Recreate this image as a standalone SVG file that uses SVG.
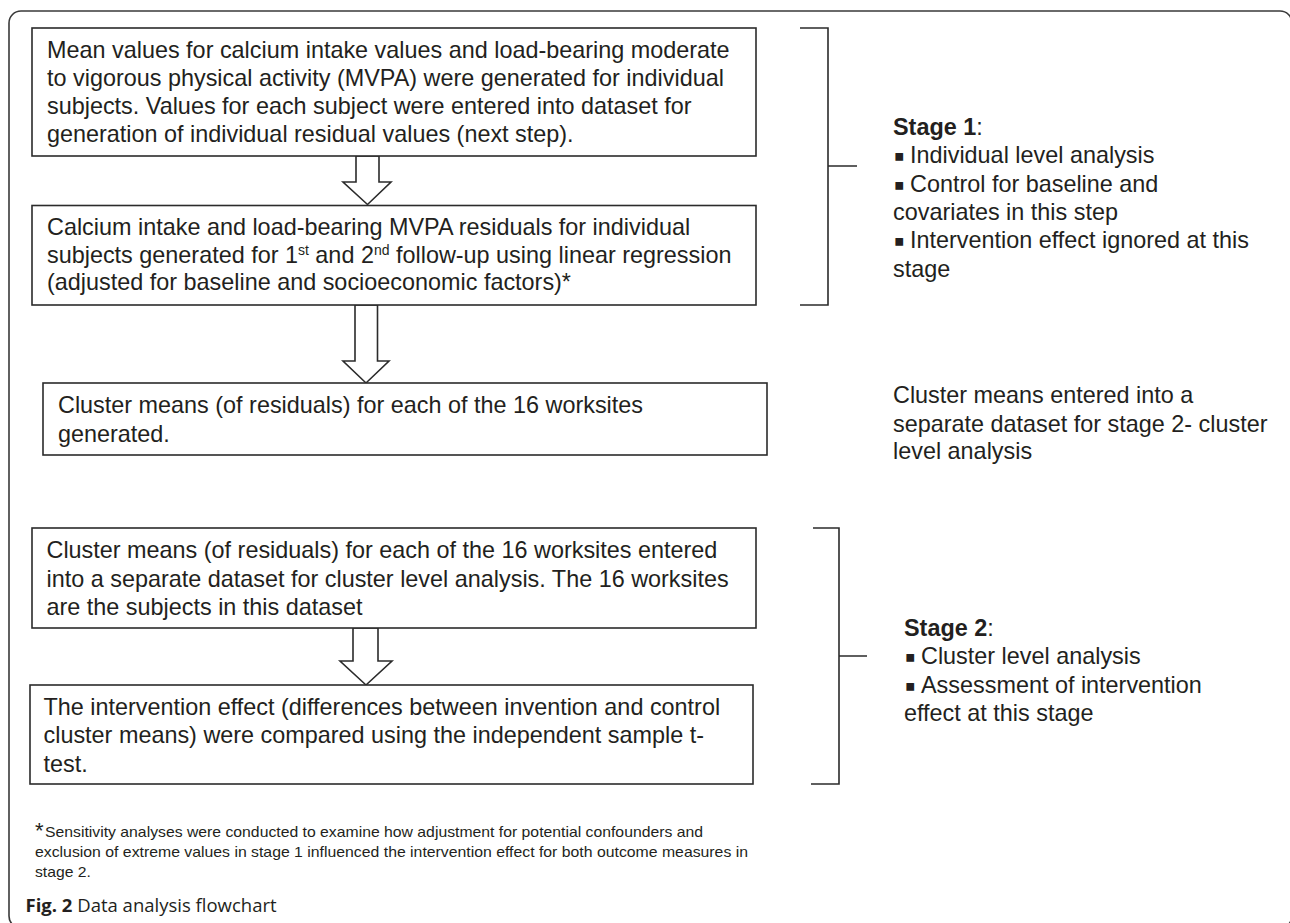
<svg xmlns="http://www.w3.org/2000/svg" width="1290" height="923" viewBox="0 0 1290 923">
  <style>
    .frame { fill: none; stroke: #3a3a3a; stroke-width: 1.6; }
    .box { fill: #ffffff; stroke: #2b2b2b; stroke-width: 1.6; }
    .arrow { fill: #ffffff; stroke: #2b2b2b; stroke-width: 1.6; stroke-linejoin: miter; }
    .br { fill: none; stroke: #2b2b2b; stroke-width: 1.6; }
    .t { font-family: "Liberation Sans", Arial, sans-serif; font-size: 23.4px; fill: #231f20; }
    .b { font-weight: bold; }
    .bul { font-family: "DejaVu Sans", sans-serif; font-size: 15.5px; fill: #231f20; }
    .sup { font-size: 14px; }
    .fn { font-family: "Liberation Sans", Arial, sans-serif; font-size: 15px; fill: #231f20; }
    .cap { font-family: "Open Sans", "Noto Sans", sans-serif; font-size: 18.5px; fill: #231f20; }
  </style>
  <rect width="1290" height="923" fill="#ffffff"/>
  <rect class="frame" x="9" y="11" width="1283" height="917" rx="12" ry="12"/>

  <g id="connectors">
    <polygon class="arrow" points="356,156 379,156 379,182 391,182 367.5,204.5 343,182 356,182"/>
    <polygon class="arrow" points="355,305 377.5,305 377.5,361 389,361 366,383 343,361 355,361"/>
    <polygon class="arrow" points="353,628 378,628 378,661 392,661 366,685 340,661 353,661"/>
    <path class="br" d="M800,28 H828 V305 H800 M828,166 H857"/>
    <path class="br" d="M813,528 H839 V784 H811 M839,656 H867"/>
  </g>

  <g id="node1">
    <rect class="box" x="32" y="28" width="724" height="128"/>
    <text class="t" x="47" y="58">Mean values for calcium intake values and load-bearing moderate</text>
    <text class="t" x="47" y="86">to vigorous physical activity (MVPA) were generated for individual</text>
    <text class="t" x="47" y="114">subjects. Values for each subject were entered into dataset for</text>
    <text class="t" x="47" y="142">generation of individual residual values (next step).</text>
  </g>

  <g id="node2">
    <rect class="box" x="32" y="205.5" width="724" height="99.5"/>
    <text class="t" x="47" y="235">Calcium intake and load-bearing MVPA residuals for individual</text>
    <text class="t" x="47" y="263">subjects generated for 1<tspan class="sup" dy="-8">st</tspan><tspan dy="8"> and 2</tspan><tspan class="sup" dy="-8">nd</tspan><tspan dy="8"> follow-up using linear regression</tspan></text>
    <text class="t" x="47" y="290">(adjusted for baseline and socioeconomic factors)*</text>
  </g>

  <g id="node3">
    <rect class="box" x="43" y="383" width="724" height="72"/>
    <text class="t" x="58" y="413">Cluster means (of residuals) for each of the 16 worksites</text>
    <text class="t" x="58" y="441.5">generated.</text>
  </g>

  <g id="node4">
    <rect class="box" x="32" y="528" width="724" height="100"/>
    <text class="t" x="46.5" y="558">Cluster means (of residuals) for each of the 16 worksites entered</text>
    <text class="t" x="46.5" y="586.5">into a separate dataset for cluster level analysis. The 16 worksites</text>
    <text class="t" x="46.5" y="615">are the subjects in this dataset</text>
  </g>

  <g id="node5">
    <rect class="box" x="30" y="685" width="723" height="99"/>
    <text class="t" x="43.5" y="715">The intervention effect (differences between invention and control</text>
    <text class="t" x="43.5" y="743">cluster means) were compared using the independent sample t-</text>
    <text class="t" x="43.5" y="771.5">test.</text>
  </g>

  <g id="stage1">
    <text class="t" x="893" y="135"><tspan class="b">Stage 1</tspan>:</text>
    <text class="bul" x="894" y="160.5">▪</text>
    <text class="t" x="910" y="163">Individual level analysis</text>
    <text class="bul" x="894" y="189.5">▪</text>
    <text class="t" x="910" y="192">Control for baseline and</text>
    <text class="t" x="893" y="220">covariates in this step</text>
    <text class="bul" x="894" y="245.5">▪</text>
    <text class="t" x="910" y="248">Intervention effect ignored at this</text>
    <text class="t" x="893" y="277">stage</text>
  </g>

  <g id="cluster-note">
    <text class="t" x="893" y="403">Cluster means entered into a</text>
    <text class="t" x="893" y="431.5">separate dataset for stage 2- cluster</text>
    <text class="t" x="893" y="459">level analysis</text>
  </g>

  <g id="stage2">
    <text class="t" x="904" y="636"><tspan class="b">Stage 2</tspan>:</text>
    <text class="bul" x="905" y="661.5">▪</text>
    <text class="t" x="921" y="664">Cluster level analysis</text>
    <text class="bul" x="905" y="690.5">▪</text>
    <text class="t" x="921" y="693">Assessment of intervention</text>
    <text class="t" x="904" y="721">effect at this stage</text>
  </g>

  <g id="footnote">
    <text class="fn" x="35" y="838" style="font-size:22px">*</text>
    <text class="fn" x="45" y="837" textLength="658" lengthAdjust="spacingAndGlyphs">Sensitivity analyses were conducted to examine how adjustment for potential confounders and</text>
    <text class="fn" x="35" y="857" textLength="713" lengthAdjust="spacingAndGlyphs">exclusion of extreme values in stage 1 influenced the intervention effect for both outcome measures in</text>
    <text class="fn" x="35" y="876.5" textLength="56" lengthAdjust="spacingAndGlyphs">stage 2.</text>
  </g>

  <g id="caption">
    <text class="cap" x="25.5" y="911.5"><tspan font-weight="bold">Fig. 2</tspan> Data analysis flowchart</text>
  </g>
</svg>
